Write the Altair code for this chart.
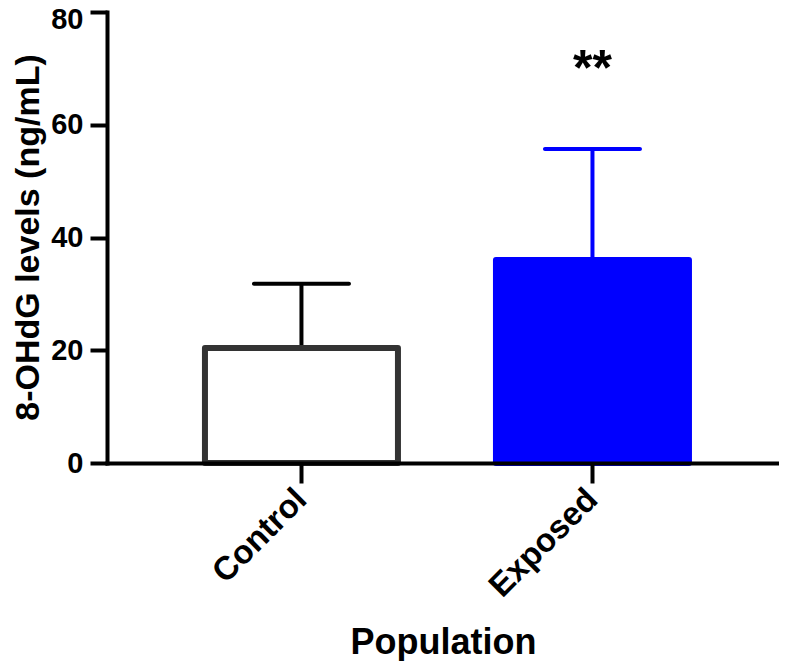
import altair as alt
import pandas as pd

population = ["Control", "Exposed"]
mean_level = [20.4, 36.0]
sd_level = [11.4, 19.7]
fill_colors = ["#FFFFFF", "#0000FF"]
edge_colors = ["#333333", "#0000FF"]
err_colors = ["#000000", "#0000FF"]
sig_group = ["Exposed"]
sig_label = ["**"]
sig_value = [67.0]
y_ticks = [0, 20, 40, 60, 80]

df = pd.DataFrame({
    "Population": population,
    "Mean": mean_level,
    "Upper": [m + s for m, s in zip(mean_level, sd_level)],
})
sig_df = pd.DataFrame({"Population": sig_group, "label": sig_label, "y": sig_value})

FONT = "Liberation Sans"

xscale = alt.Scale(domain=population, paddingInner=0, paddingOuter=0.1546, align=0.544)
yscale = alt.Scale(domain=[0, 80], nice=False)

xaxis = alt.Axis(
    title="Population", titleFont=FONT, titleFontSize=36, titleFontWeight="bold",
    titleColor="black", titleX=336, titleY=190, titleBaseline="alphabetic", titleAlign="center",
    labelFont=FONT, labelFontSize=33, labelFontWeight="bold", labelColor="black",
    labelAngle=315, labelAlign="right", labelBaseline="middle", labelPadding=11,
    labelOverlap=False,
    domainColor="black", domainWidth=4, domainCap="square",
    tickColor="black", tickWidth=4, tickSize=20, grid=False, zindex=2,
)
yaxis = alt.Axis(
    title="8-OHdG levels (ng/mL)", titleFont=FONT, titleFontSize=34, titleFontWeight="bold",
    titleColor="black", titleX=-79, titleY=225, titleAngle=270, titleAlign="center",
    titleBaseline="middle",
    values=y_ticks, labelFont=FONT, labelFontSize=29, labelFontWeight="bold",
    labelColor="black", labelPadding=7,
    labelOffset={"condition": {"test": "datum.value == 80", "value": 7}, "value": 0},
    domainColor="black", domainWidth=4, domainCap="square",
    tickColor="black", tickWidth=4, tickSize=17, grid=False, zindex=2,
)

base = alt.Chart(df)

bars = base.mark_bar(size=193, strokeWidth=6, strokeJoin="round").encode(
    x=alt.X("Population:N", sort=population, scale=xscale, axis=xaxis),
    y=alt.Y("Mean:Q", scale=yscale, axis=yaxis),
    fill=alt.Fill("Population:N", scale=alt.Scale(domain=population, range=fill_colors), legend=None),
    stroke=alt.Stroke("Population:N", scale=alt.Scale(domain=population, range=edge_colors), legend=None),
)

stems = base.mark_rule(strokeWidth=4).encode(
    x=alt.X("Population:N", sort=population, scale=xscale),
    y=alt.Y("Mean:Q", scale=yscale),
    y2="Upper:Q",
    color=alt.Color("Population:N", scale=alt.Scale(domain=population, range=err_colors), legend=None),
)

caps = base.mark_tick(size=99, thickness=4, cornerRadius=2, opacity=1).encode(
    x=alt.X("Population:N", sort=population, scale=xscale),
    y=alt.Y("Upper:Q", scale=yscale),
    color=alt.Color("Population:N", scale=alt.Scale(domain=population, range=err_colors), legend=None),
)

stars = alt.Chart(sig_df).mark_text(
    font=FONT, fontSize=50, fontWeight="bold", color="black", baseline="alphabetic", align="center"
).encode(
    x=alt.X("Population:N", sort=population, scale=xscale),
    y=alt.Y("y:Q", scale=yscale),
    text="label:N",
)

chart = alt.layer(stems, bars, caps, stars).properties(
    width=672, height=451,
    autosize=alt.AutoSizeParams(type="none"),
    padding={"left": 99, "top": 4, "right": 0, "bottom": 198},
    background="white",
).configure_view(strokeWidth=0)

chart.save("out.html", embed_options={"renderer": "svg", "actions": False})
